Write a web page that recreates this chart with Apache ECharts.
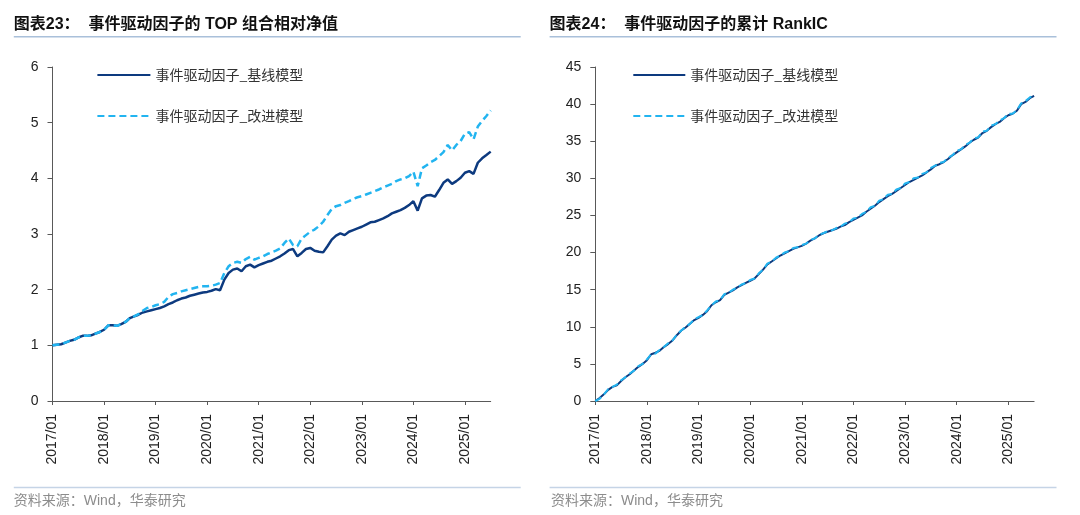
<!DOCTYPE html>
<html>
<head>
<meta charset="utf-8">
<script src="https://cdn.jsdelivr.net/npm/echarts@6/dist/echarts.min.js"></script>
<style>
html,body{margin:0;padding:0;background:#fff;}
#c{width:1080px;height:515px;}
</style>
</head>
<body>
<div id="c"></div>
<script>
// month categories 2017/01 .. 2025/07
var categories = [];
for (var y = 2017; y <= 2025; y++) {
  for (var mo = 1; mo <= 12; mo++) {
    if (y === 2025 && mo > 7) break;
    categories.push(y + '/' + (mo < 10 ? '0' + mo : mo));
  }
}
var seriesNames = ['事件驱动因子_基线模型', '事件驱动因子_改进模型'];

// Chart 23: TOP portfolio relative NAV (monthly)
var navBase = [
  1.00,1.01,1.02,1.05,1.08,1.10,1.14,1.17,1.17,1.18,1.21,1.24,
  1.28,1.36,1.36,1.35,1.38,1.42,1.49,1.52,1.55,1.59,1.61,1.63,
  1.65,1.67,1.70,1.74,1.77,1.81,1.84,1.86,1.89,1.91,1.93,1.95,
  1.96,1.98,2.01,1.99,2.18,2.30,2.36,2.38,2.33,2.42,2.45,2.40,
  2.44,2.47,2.50,2.52,2.56,2.60,2.65,2.71,2.73,2.60,2.66,2.73,
  2.75,2.70,2.68,2.67,2.78,2.90,2.97,3.01,2.98,3.04,3.07,3.10,
  3.13,3.17,3.21,3.22,3.25,3.28,3.32,3.37,3.40,3.43,3.47,3.52,
  3.59,3.42,3.64,3.69,3.70,3.67,3.79,3.92,3.98,3.90,3.95,4.01,
  4.10,4.13,4.08,4.28,4.36,4.42,4.48
];
var navImproved = [
  1.00,1.01,1.02,1.05,1.08,1.10,1.14,1.17,1.17,1.18,1.21,1.24,
  1.28,1.36,1.36,1.35,1.38,1.42,1.49,1.52,1.56,1.62,1.67,1.69,
  1.72,1.74,1.78,1.87,1.92,1.94,1.97,1.99,2.01,2.03,2.05,2.06,
  2.06,2.07,2.09,2.12,2.30,2.42,2.48,2.50,2.48,2.55,2.59,2.54,
  2.57,2.60,2.64,2.67,2.70,2.74,2.84,2.92,2.80,2.78,2.92,2.98,
  3.04,3.08,3.14,3.22,3.34,3.45,3.50,3.52,3.56,3.59,3.63,3.66,
  3.68,3.71,3.74,3.77,3.80,3.84,3.87,3.90,3.95,3.98,4.00,4.04,
  4.12,3.86,4.18,4.23,4.29,4.33,4.40,4.47,4.60,4.50,4.60,4.67,
  4.80,4.83,4.70,4.93,5.03,5.12,5.22
];

// Chart 24: cumulative RankIC (monthly)
var icBase = [
  0.0,0.4,0.9,1.5,1.9,2.1,2.7,3.2,3.6,4.1,4.6,5.0,
  5.5,6.3,6.5,6.8,7.3,7.7,8.2,8.9,9.5,9.9,10.4,10.9,
  11.2,11.6,12.1,12.9,13.3,13.6,14.3,14.6,14.9,15.3,15.6,15.9,
  16.2,16.5,17.1,17.7,18.4,18.8,19.2,19.6,19.9,20.2,20.5,20.7,
  20.9,21.2,21.6,21.9,22.3,22.6,22.8,23.0,23.2,23.5,23.7,24.1,
  24.4,24.7,25.0,25.5,25.9,26.3,26.8,27.2,27.6,27.9,28.3,28.7,
  29.1,29.5,29.8,30.1,30.4,30.8,31.2,31.7,31.9,32.2,32.6,33.1,
  33.5,33.9,34.3,34.8,35.2,35.5,36.1,36.4,36.9,37.3,37.6,38.1,
  38.5,38.7,39.1,40.0,40.3,40.8,41.1
];
var icImproved = [
  0.0,0.3,0.9,1.6,1.9,2.2,2.8,3.2,3.7,4.1,4.7,5.0,
  5.6,6.3,6.4,6.9,7.3,7.8,8.2,9.0,9.5,10.0,10.4,11.0,
  11.3,11.6,12.2,12.9,13.4,13.6,14.4,14.6,15.0,15.3,15.7,15.9,
  16.3,16.5,17.2,17.7,18.5,18.8,19.3,19.6,20.0,20.2,20.6,20.7,
  21.0,21.2,21.7,21.9,22.4,22.6,22.9,23.0,23.3,23.5,23.9,24.1,
  24.6,24.7,25.2,25.5,26.1,26.3,27.0,27.2,27.8,27.9,28.5,28.7,
  29.3,29.5,30.0,30.1,30.6,30.8,31.4,31.7,32.1,32.2,32.8,33.1,
  33.7,33.9,34.5,34.8,35.4,35.5,36.3,36.4,37.1,37.3,37.8,38.1,
  38.7,38.7,39.2,40.1,40.4,40.9,41.3
];

var navTicks = { min: 0, max: 6, interval: 1 };
var icTicks = { min: 0, max: 45, interval: 5 };

var C_DARK = '#0D3A7F';
var C_LIGHT = '#22B4F0';
var AXIS = '#595959';
var LATIN = '"Liberation Sans", Arial, "Noto Sans CJK SC", sans-serif';
var CJK = '"Noto Sans CJK SC", "Liberation Sans", sans-serif';

function isJan(i) { return i % 12 === 0; }

function xAxisDef(gi) {
  return {
    type: 'category', gridIndex: gi, data: categories, boundaryGap: false,
    axisLine: { lineStyle: { color: AXIS, width: 1 } },
    axisTick: { interval: function (i) { return isJan(i); }, length: 4, lineStyle: { color: AXIS } },
    axisLabel: { interval: function (i) { return isJan(i); }, rotate: 90, margin: 13, fontSize: 14, color: '#222', fontFamily: LATIN },
    splitLine: { show: false }
  };
}
function yAxisDef(gi, t) {
  return {
    type: 'value', gridIndex: gi, min: t.min, max: t.max, interval: t.interval,
    axisLine: { show: true, lineStyle: { color: AXIS, width: 1 } },
    axisTick: { show: true, length: 5, lineStyle: { color: AXIS } },
    axisLabel: { margin: 14, fontSize: 14, color: '#222', fontFamily: LATIN },
    splitLine: { show: false }
  };
}
function lineSeries(name, data, gi, color, dashed, w) {
  return {
    name: name, type: 'line', xAxisIndex: gi, yAxisIndex: gi, data: data,
    symbol: 'none', showSymbol: false, smooth: false, animation: false,
    lineStyle: { color: color, width: w, type: dashed ? [7, 4] : 'solid' },
    itemStyle: { color: color }
  };
}
function legendDef(left, w) {
  return {
    orient: 'vertical', left: left, top: 68, padding: 0, itemWidth: w, itemHeight: 14, itemGap: 27,
    data: seriesNames, selectedMode: false,
    itemStyle: { opacity: 0 },
    textStyle: { fontSize: 14, color: '#333', fontFamily: CJK }
  };
}

var chart = echarts.init(document.getElementById('c'), null, { renderer: 'canvas' });
chart.setOption({
  animation: false,
  backgroundColor: '#fff',
  grid: [
    { left: 52.5, right: 589.3, top: 67, bottom: 114 },
    { left: 595.3, right: 45.9, top: 67, bottom: 114 }
  ],
  xAxis: [xAxisDef(0), xAxisDef(1)],
  yAxis: [yAxisDef(0, navTicks), yAxisDef(1, icTicks)],
  legend: [legendDef(96.4, 53), legendDef(632.3, 52)],
  series: [
    lineSeries(seriesNames[0], navBase, 0, C_DARK, false, 2.5),
    lineSeries(seriesNames[1], navImproved, 0, C_LIGHT, true, 2.5),
    lineSeries(seriesNames[0], icBase, 1, C_DARK, false, 2),
    lineSeries(seriesNames[1], icImproved, 1, C_LIGHT, true, 2)
  ],
  graphic: [
    { type: 'text', left: 13.8, top: 17, style: { text: '图表23：  事件驱动因子的 TOP 组合相对净值', font: 'bold 16px ' + LATIN, fill: '#111' } },
    { type: 'text', left: 549.6, top: 17, style: { text: '图表24：  事件驱动因子的累计 RankIC', font: 'bold 16px ' + LATIN, fill: '#111' } },
    { type: 'line', shape: { x1: 13.8, y1: 36.8, x2: 520.7, y2: 36.8 }, style: { stroke: '#A9C0DA', lineWidth: 1.5 } },
    { type: 'line', shape: { x1: 549.6, y1: 36.8, x2: 1056.5, y2: 36.8 }, style: { stroke: '#A9C0DA', lineWidth: 1.5 } },
    { type: 'line', shape: { x1: 13.8, y1: 487.5, x2: 520.7, y2: 487.5 }, style: { stroke: '#C5D4E6', lineWidth: 1.5 } },
    { type: 'line', shape: { x1: 549.6, y1: 487.5, x2: 1056.5, y2: 487.5 }, style: { stroke: '#C5D4E6', lineWidth: 1.5 } },
    { type: 'text', left: 13.8, top: 494, style: { text: '资料来源：Wind，华泰研究', font: '14px ' + LATIN, fill: '#8C8C8C' } },
    { type: 'text', left: 551, top: 494, style: { text: '资料来源：Wind，华泰研究', font: '14px ' + LATIN, fill: '#8C8C8C' } }
  ]
});
</script>
</body>
</html>
